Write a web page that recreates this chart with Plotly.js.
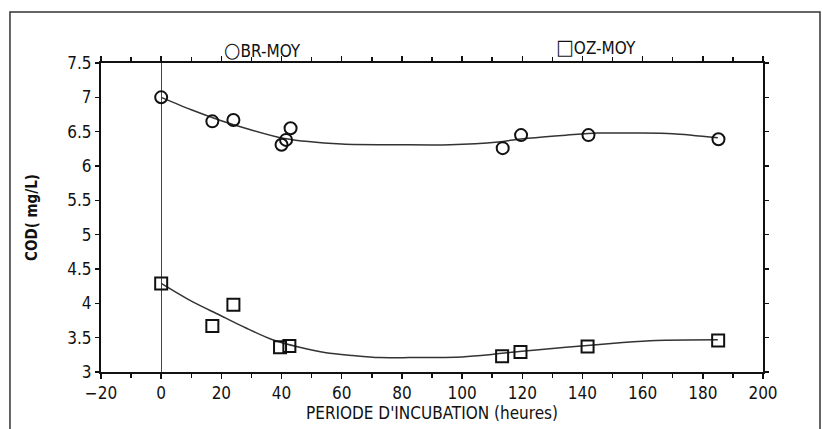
<!DOCTYPE html>
<html>
<head>
<meta charset="utf-8">
<script src="https://cdn.plot.ly/plotly-3.0.1.min.js"></script>
<style>html,body{margin:0;padding:0;background:#fff;}#chart{width:823px;height:429px;}</style>
</head>
<body>
<div id="chart"></div>
<script>
// Measured data points
const brHours = [0, 17, 24, 40, 41.5, 43, 113.5, 119.6, 142, 185.2];
const brCOD   = [7.0, 6.65, 6.67, 6.31, 6.38, 6.55, 6.26, 6.45, 6.45, 6.39];
const ozHours = [0, 17, 24, 39.5, 42.6, 113.3, 119.4, 141.7, 185.1];
const ozCOD   = [4.29, 3.67, 3.98, 3.36, 3.38, 3.23, 3.29, 3.37, 3.46];

// Fitted curves
const brFitHours = [0, 10, 20, 28, 41, 60, 79, 96, 112, 121, 135, 145, 158, 170, 185];
const brFitCOD   = [7.0, 6.82, 6.66, 6.55, 6.40, 6.32, 6.31, 6.31, 6.35, 6.40, 6.45, 6.48, 6.48, 6.47, 6.41];
const ozFitHours = [0, 10.5, 19.4, 28.2, 37, 46, 54.8, 63.7, 72.5, 82.5, 100, 109, 119, 134.5, 153.4, 164.5, 185];
const ozFitCOD   = [4.29, 4.02, 3.83, 3.64, 3.47, 3.36, 3.28, 3.24, 3.21, 3.21, 3.22, 3.25, 3.30, 3.36, 3.43, 3.46, 3.47];

const legendBR = '<span style="font-size:21px">\u25CB</span>BR-MOY';
const legendOZ = '<span style="font-size:21px">\u25A1</span>OZ-MOY';
const xTitle = "PERIODE D'INCUBATION (heures)";
const yTitle = "COD( mg/L)";

const FONT = "DejaVu Sans Condensed, DejaVu Sans, sans-serif";
const INK = "#111";

const traces = [
  {x: brFitHours, y: brFitCOD, mode: 'lines', line: {color: '#333', width: 1.5, shape: 'spline', smoothing: 0.8}, showlegend: false, hoverinfo: 'skip'},
  {x: ozFitHours, y: ozFitCOD, mode: 'lines', line: {color: '#333', width: 1.5, shape: 'spline', smoothing: 0.8}, showlegend: false, hoverinfo: 'skip'},
  {x: brHours, y: brCOD, mode: 'markers', name: 'BR-MOY', marker: {symbol: 'circle-open', size: 12, color: INK, line: {width: 2, color: INK}}, showlegend: false},
  {x: ozHours, y: ozCOD, mode: 'markers', name: 'OZ-MOY', marker: {symbol: 'square-open', size: 12, color: INK, line: {width: 2, color: INK}}, showlegend: false}
];

const layout = {
  width: 823, height: 429,
  margin: {l: 101, r: 60, t: 63, b: 57},
  paper_bgcolor: '#fff', plot_bgcolor: '#fff',
  font: {family: FONT, size: 17, color: INK},
  showlegend: false,
  xaxis: {
    range: [-20, 200], tick0: 0, dtick: 20, ticks: 'outside', ticklen: 5, tickwidth: 1.5, tickcolor: INK,
    minor: {dtick: 10, tick0: 0, ticks: 'outside', ticklen: 4, tickcolor: INK, showgrid: false},
    showline: true, linecolor: INK, linewidth: 2, mirror: 'ticks', showgrid: false,
    zeroline: true, zerolinecolor: '#444', zerolinewidth: 1,
    tickfont: {family: FONT, size: 17, color: INK},
    title: {text: xTitle, font: {family: FONT, size: 17, color: INK}, standoff: 3}
  },
  yaxis: {
    range: [3, 7.5], dtick: 0.5, tick0: 3, ticks: 'outside', ticklen: 4, tickwidth: 1.5, tickcolor: INK,
    showline: true, linecolor: INK, linewidth: 2, mirror: 'ticks', showgrid: false, zeroline: false,
    tickfont: {family: FONT, size: 17, color: INK},
    title: {text: yTitle, font: {family: FONT, size: 15, color: INK, weight: 'bold'}, standoff: 26}
  },
  annotations: [
    {xref: 'paper', yref: 'paper', x: 0.2447, y: 1.042, text: legendBR, showarrow: false, xanchor: 'center', yanchor: 'middle', font: {family: FONT, size: 17, color: INK}},
    {xref: 'paper', yref: 'paper', x: 0.7477, y: 1.052, text: legendOZ, showarrow: false, xanchor: 'center', yanchor: 'middle', font: {family: FONT, size: 17, color: INK}}
  ],
  shapes: [
    {type: 'path', xref: 'paper', yref: 'paper', path: 'M -0.1375 -0.2 L -0.1375 1.165 L 1.0861 1.165 L 1.0861 -0.2', line: {color: '#333', width: 1.5}}
  ]
};

Plotly.newPlot('chart', traces, layout, {staticPlot: true, displayModeBar: false});
</script>
</body>
</html>
